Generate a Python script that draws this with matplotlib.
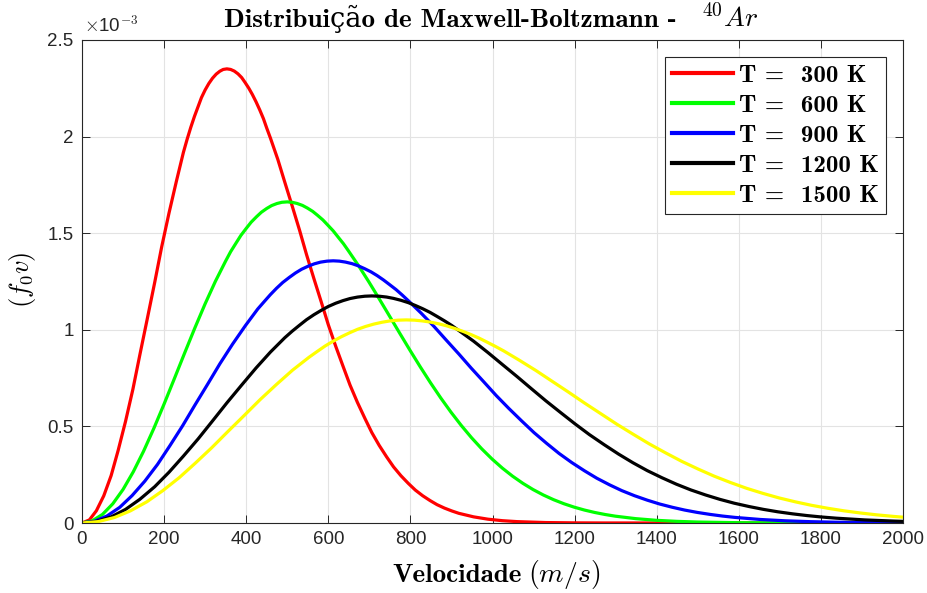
import matplotlib
matplotlib.use("Agg")
import matplotlib.pyplot as plt

# speeds (m/s) and f(v), f in units of 1e-3
v300 = [0, 18, 35, 53, 71, 88, 106, 124, 141, 159, 177, 194, 212, 230, 247, 256,
        265, 274, 283, 291, 300, 309, 318, 327, 336, 344, 353, 362, 371, 380, 389,
        397, 406, 415, 424, 433, 442, 450, 459, 477, 494, 512, 530, 547, 565, 583,
        600, 618, 636, 653, 671, 689, 706, 724, 742, 759, 777, 795, 812, 830, 848,
        865, 883, 901, 918, 954, 989, 1024, 1060, 1130, 1201, 1272, 2000]
f300 = [0, 0.0159, 0.0633, 0.1406, 0.2456, 0.3752, 0.5256, 0.6925, 0.8712, 1.0567,
        1.2441, 1.4283, 1.6048, 1.7694, 1.9181, 1.9855, 2.0479, 2.1049, 2.1563,
        2.2019, 2.2415, 2.2750, 2.3024, 2.3236, 2.3387, 2.3476, 2.3506, 2.3477,
        2.3391, 2.3249, 2.3055, 2.2810, 2.2517, 2.2180, 2.1800, 2.1381, 2.0927,
        2.0441, 1.9925, 1.8821, 1.7641, 1.6410, 1.5153, 1.3891, 1.2645, 1.1431,
        1.0263, 0.9152, 0.8108, 0.7136, 0.6240, 0.5422, 0.4681, 0.4016, 0.3425,
        0.2903, 0.2445, 0.2048, 0.1704, 0.1410, 0.1160, 0.0948, 0.0771, 0.0623,
        0.0501, 0.0318, 0.0197, 0.0120, 0.0071, 0.0023, 0.0007, 0.0002, 0]

v600 = [0, 25, 50, 75, 100, 125, 150, 175, 200, 225, 250, 275, 300, 325, 350, 362,
        375, 387, 400, 412, 425, 437, 450, 462, 475, 487, 500, 512, 524, 537, 549,
        562, 574, 587, 599, 612, 624, 637, 649, 674, 699, 724, 749, 774, 799, 824,
        849, 874, 899, 924, 949, 974, 999, 1024, 1049, 1074, 1099, 1124, 1149, 1174,
        1199, 1224, 1249, 1274, 1299, 1349, 1399, 1449, 1499, 1598, 1698, 1798, 2000]
f600 = [0, 0.0113, 0.0447, 0.0994, 0.1736, 0.2653, 0.3716, 0.4897, 0.6160, 0.7472,
        0.8797, 1.0100, 1.1348, 1.2511, 1.3563, 1.4040, 1.4481, 1.4884, 1.5247,
        1.5569, 1.5849, 1.6086, 1.6280, 1.6430, 1.6537, 1.6600, 1.6621, 1.6600,
        1.6539, 1.6439, 1.6302, 1.6129, 1.5922, 1.5683, 1.5414, 1.5119, 1.4797,
        1.4453, 1.4089, 1.3308, 1.2474, 1.1603, 1.0715, 0.9823, 0.8941, 0.8083,
        0.7257, 0.6471, 0.5733, 0.5046, 0.4412, 0.3834, 0.3310, 0.2840, 0.2422,
        0.2053, 0.1729, 0.1448, 0.1205, 0.0997, 0.0820, 0.0670, 0.0545, 0.0441,
        0.0354, 0.0225, 0.0139, 0.0085, 0.0050, 0.0016, 0.0005, 0.0001, 0]

v900 = [0, 31, 61, 92, 122, 153, 184, 214, 245, 275, 306, 336, 367, 398, 428, 444,
        459, 474, 489, 505, 520, 535, 551, 566, 581, 597, 612, 627, 642, 658, 673,
        688, 704, 719, 734, 749, 765, 780, 795, 826, 857, 887, 918, 948, 979, 1009,
        1040, 1071, 1101, 1132, 1162, 1193, 1224, 1254, 1285, 1315, 1346, 1377,
        1407, 1438, 1468, 1499, 1530, 1560, 1591, 1652, 1713, 1774, 1835, 1958, 2000]
f900 = [0, 0.0092, 0.0365, 0.0812, 0.1418, 0.2166, 0.3034, 0.3998, 0.5030, 0.6101,
        0.7182, 0.8246, 0.9265, 1.0215, 1.1074, 1.1463, 1.1823, 1.2152, 1.2449,
        1.2712, 1.2941, 1.3135, 1.3293, 1.3415, 1.3502, 1.3554, 1.3571, 1.3554,
        1.3504, 1.3423, 1.3311, 1.3169, 1.3000, 1.2805, 1.2586, 1.2344, 1.2082,
        1.1801, 1.1504, 1.0866, 1.0185, 0.9474, 0.8748, 0.8020, 0.7301, 0.6599,
        0.5925, 0.5284, 0.4681, 0.4120, 0.3603, 0.3130, 0.2703, 0.2319, 0.1977,
        0.1676, 0.1412, 0.1182, 0.0984, 0.0814, 0.0670, 0.0547, 0.0445, 0.0360,
        0.0289, 0.0183, 0.0114, 0.0069, 0.0041, 0.0013, 0.0009]

v1200 = [0, 35, 71, 106, 141, 177, 212, 247, 283, 318, 353, 389, 424, 459, 494, 512,
         530, 547, 565, 583, 600, 618, 636, 653, 671, 689, 706, 724, 742, 759, 777,
         795, 812, 830, 848, 865, 883, 901, 918, 954, 989, 1024, 1060, 1095, 1130,
         1166, 1201, 1236, 1272, 1307, 1342, 1377, 1413, 1448, 1483, 1519, 1554,
         1589, 1625, 1660, 1695, 1731, 1766, 1801, 1837, 1907, 1978, 2000]
f1200 = [0, 0.0080, 0.0316, 0.0703, 0.1228, 0.1876, 0.2628, 0.3462, 0.4356, 0.5284,
         0.6220, 0.7142, 0.8024, 0.8847, 0.9590, 0.9928, 1.0239, 1.0524, 1.0781,
         1.1009, 1.1207, 1.1375, 1.1512, 1.1618, 1.1693, 1.1738, 1.1753, 1.1738,
         1.1695, 1.1625, 1.1527, 1.1405, 1.1259, 1.1090, 1.0900, 1.0691, 1.0464,
         1.0220, 0.9963, 0.9410, 0.8820, 0.8205, 0.7576, 0.6946, 0.6323, 0.5715,
         0.5131, 0.4576, 0.4054, 0.3568, 0.3120, 0.2711, 0.2341, 0.2008, 0.1713,
         0.1451, 0.1223, 0.1024, 0.0852, 0.0705, 0.0580, 0.0474, 0.0385, 0.0312,
         0.0250, 0.0159, 0.0099, 0.0085]

v1500 = [0, 39, 79, 118, 158, 197, 237, 276, 316, 355, 395, 434, 474, 513, 553, 573,
         592, 612, 632, 652, 671, 691, 711, 731, 750, 770, 790, 810, 829, 849, 869,
         889, 908, 928, 948, 968, 987, 1007, 1027, 1066, 1106, 1145, 1185, 1224,
         1264, 1303, 1343, 1382, 1422, 1461, 1501, 1540, 1580, 1619, 1659, 1698,
         1738, 1777, 1817, 1856, 1896, 1935, 1975, 2000]
f1500 = [0, 0.0071, 0.0283, 0.0629, 0.1098, 0.1678, 0.2350, 0.3097, 0.3896, 0.4726,
         0.5563, 0.6388, 0.7177, 0.7913, 0.8578, 0.8879, 0.9158, 0.9413, 0.9643,
         0.9847, 1.0024, 1.0174, 1.0296, 1.0391, 1.0459, 1.0499, 1.0512, 1.0499,
         1.0460, 1.0397, 1.0310, 1.0201, 1.0070, 0.9919, 0.9749, 0.9562, 0.9359,
         0.9141, 0.8911, 0.8417, 0.7889, 0.7339, 0.6776, 0.6212, 0.5655, 0.5112,
         0.4590, 0.4093, 0.3626, 0.3191, 0.2791, 0.2425, 0.2093, 0.1796, 0.1532,
         0.1298, 0.1094, 0.0916, 0.0762, 0.0631, 0.0519, 0.0424, 0.0345, 0.0301]

temps = ["300", "600", "900", "1200", "1500"]
colors = ["#ff0000", "#00ff00", "#0000ff", "#000000", "#ffff00"]

plt.rcParams["mathtext.fontset"] = "cm"
bold = ["cmb10", "DejaVu Serif"]
tick_col = "#262626"
W, H = 928, 593

fig = plt.figure(figsize=(W / 100, H / 100), dpi=100)
ax = fig.add_axes([82 / W, 1 - 523 / H, (903 - 82) / W, (523 - 40) / H])

series = [(v300, f300), (v600, f600), (v900, f900), (v1200, f1200), (v1500, f1500)]
for (xs, ys), t, c in zip(series, temps, colors):
    ax.plot(xs, ys, color=c, lw=2.3, label="T =  " + t + " K")

ax.set_xlim(0, 2000)
ax.set_ylim(0, 2.5)
ax.set_xticks(range(0, 2001, 200))
ax.set_yticks([0, 0.5, 1, 1.5, 2, 2.5])
ax.set_yticklabels(["0", "0.5", "1", "1.5", "2", "2.5"])
ax.grid(True, color="#e3e3e3", lw=0.8)
ax.set_axisbelow(True)
ax.tick_params(direction="in", top=True, right=True, length=5.5, width=0.7,
               colors=tick_col, labelsize=13.5, pad=6)
for lab in ax.get_xticklabels() + ax.get_yticklabels():
    lab.set_family("Liberation Sans")
for s in ax.spines.values():
    s.set_color(tick_col)
    s.set_linewidth(0.8)

fig.text(84 / W, 1 - 32 / H, r"$\times$10$^{\mathsf{-3}}$", fontsize=13.5,
         color=tick_col, family="Liberation Sans", ha="left", va="baseline")

# title in two parts so the cedilla/tilde can fall back to another font
fig.text(224 / W, 1 - 27 / H, "Distribuição de Maxwell-Boltzmann - ", family=bold,
         fontsize=19.5, ha="left", va="baseline")
fig.text(701 / W, 1 - 27 / H, r"$^{40}Ar$", fontsize=20, ha="left", va="baseline")

fig.text(392 / W, 1 - 582 / H, "Velocidade", family=bold, fontsize=19.5,
         ha="left", va="baseline")
fig.text(528 / W, 1 - 582 / H, r"$(m/s)$", fontsize=20, ha="left", va="baseline")
fig.text(23 / W, 1 - 280 / H, r"$(f_0 v)$", fontsize=19, rotation=90,
         ha="center", va="center")

leg = ax.legend(loc="upper right", bbox_to_anchor=(0.9793, 0.9648),
                prop={"family": bold, "size": 18}, fancybox=False,
                edgecolor="#262626", framealpha=1, handlelength=2.45,
                handletextpad=0.25, borderpad=0.28, labelspacing=0.3,
                borderaxespad=0)
leg.get_frame().set_linewidth(0.8)
for line in leg.get_lines():
    line.set_linewidth(3)

fig.savefig("out.png", dpi=100)
